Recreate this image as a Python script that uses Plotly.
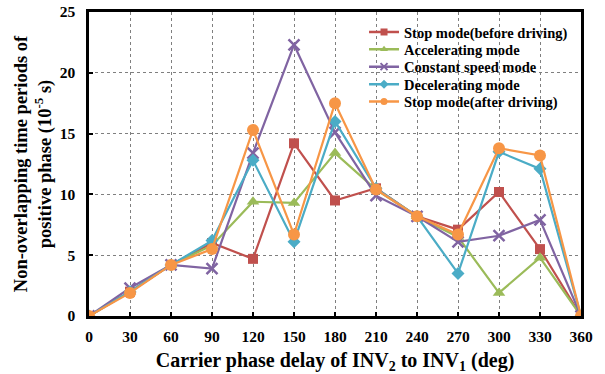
import plotly.graph_objects as go

# Carrier phase delay (deg)
phase = [0, 30, 60, 90, 120, 150, 180, 210, 240, 270, 300, 330, 360]

# Non-overlapping time periods (1e-5 s) for each driving mode
stop_before = [0, 2.0, 4.2, 6.0, 4.7, 14.2, 9.5, 10.5, 8.2, 7.1, 10.2, 5.5, 0]
accelerating = [0, 2.0, 4.2, 5.8, 9.4, 9.3, 13.4, 10.4, 8.2, 6.5, 1.9, 4.8, 0]
constant_speed = [0, 2.3, 4.2, 3.9, 13.4, 22.3, 15.1, 9.9, 8.2, 6.1, 6.6, 7.9, 0]
decelerating = [0, 2.0, 4.2, 6.2, 12.8, 6.1, 16.0, 10.5, 8.2, 3.5, 13.5, 12.1, 0]
stop_after = [0, 1.9, 4.2, 5.5, 15.3, 6.7, 17.5, 10.4, 8.2, 6.7, 13.8, 13.2, 0]

series = [
    ("Stop mode(before driving)", stop_before, "#C0504D", "square", 10),
    ("Accelerating mode", accelerating, "#9BBB59", "triangle-up", 11),
    ("Constant speed mode", constant_speed, "#8064A2", "x-thin-open", 11),
    ("Decelerating mode", decelerating, "#4BACC6", "diamond", 10),
    ("Stop mode(after driving)", stop_after, "#F79646", "circle", 12),
]

font_family = "Liberation Serif"

# Vertical positions (paper units) of the legend rows
legend_rows = [0.934, 0.877, 0.820, 0.762, 0.705]

fig = go.Figure()
for name, vals, color, symbol, size in series:
    marker = dict(symbol=symbol, size=size, color=color)
    if symbol == "x-thin-open":
        marker["line"] = dict(color=color, width=2.5)
    fig.add_trace(go.Scatter(
        x=phase, y=vals, name=name, mode="lines+markers",
        line=dict(color=color, width=2.2),
        marker=marker, showlegend=False,
    ))

# One compact legend per row, each with a small symbol
legend_layouts = {}
for i, (name, vals, color, symbol, size) in enumerate(series):
    key = "legend" if i == 0 else f"legend{i + 1}"
    marker = dict(symbol=symbol, size=7, color=color)
    if symbol == "x-thin-open":
        marker["line"] = dict(color=color, width=2)
    fig.add_trace(go.Scatter(
        x=[None], y=[None], name=name, mode="lines+markers",
        line=dict(color=color, width=2.5), marker=marker, legend=key,
    ))
    legend_layouts[key] = dict(
        x=0.559, y=legend_rows[i], xanchor="left", yanchor="middle",
        bgcolor="rgba(0,0,0,0)", borderwidth=0,
        font=dict(family=font_family, size=14.5, color="black", weight="bold"),
        itemwidth=30,
    )

# White panel behind the legend rows, above the grid
fig.add_shape(
    type="rect", xref="paper", yref="paper",
    x0=0.56, x1=0.988, y0=0.68, y1=0.962,
    fillcolor="white", line=dict(width=0), layer="between",
)

axis_common = dict(
    showline=True, linecolor="black", linewidth=2.5, mirror=True,
    showgrid=True, gridcolor="#7f7f7f", gridwidth=1, griddash="dot",
    ticks="inside", ticklen=4, tickcolor="black", tickwidth=2,
    zeroline=False, automargin=False,
    tickfont=dict(family=font_family, size=15.5, color="black", weight="bold"),
)

fig.update_layout(
    width=605, height=374,
    margin=dict(l=89, r=24, t=12, b=58),
    paper_bgcolor="white", plot_bgcolor="white",
    font=dict(family=font_family, color="black"),
    xaxis=dict(
        range=[0, 360], tickmode="array", tickvals=phase,
        ticklabelstandoff=5,
        title=dict(
            text="Carrier phase delay of INV<sub>2</sub> to INV<sub>1</sub> (deg)",
            font=dict(family=font_family, size=20, weight="bold"), standoff=10,
        ),
        **axis_common,
    ),
    yaxis=dict(
        range=[0, 25], tickmode="array", tickvals=[0, 5, 10, 15, 20, 25],
        ticklabelstandoff=8,
        title=dict(
            text="Non-overlapping time periods of<br>positive phase (10<sup>-5</sup> s)",
            font=dict(family=font_family, size=18.5, weight="bold"), standoff=4,
        ),
        **axis_common,
    ),
    showlegend=True,
    **legend_layouts,
)

fig.write_html("out.html")
